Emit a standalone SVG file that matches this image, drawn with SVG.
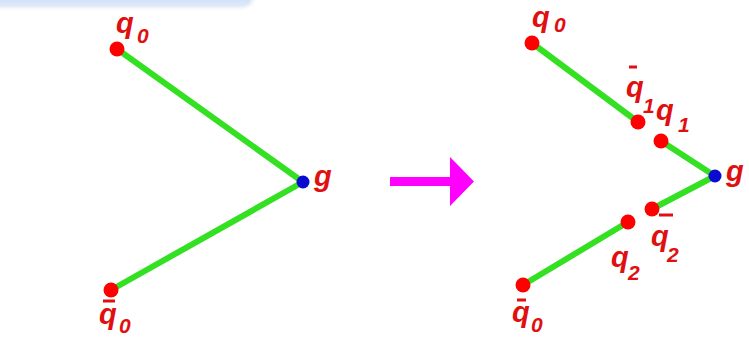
<svg xmlns="http://www.w3.org/2000/svg" width="749" height="347" viewBox="0 0 749 347">
<defs>
<linearGradient id="bg" x1="0" y1="0" x2="0" y2="1">
<stop offset="0" stop-color="#a9c8ee"/>
<stop offset="1" stop-color="#dce9f9"/>
</linearGradient>
<filter id="blur" x="-10%" y="-100%" width="120%" height="400%"><feGaussianBlur stdDeviation="2"/></filter>
</defs>
<style>
.edge{stroke:#33e022;stroke-width:6;stroke-linecap:round;fill:none}
.pt{fill:#ff0000}
.gp{fill:#0a0ad0}
.lb{font-family:"Liberation Sans",Arial,sans-serif;font-weight:bold;font-style:italic;fill:#e01010}
.big{font-size:29px}
.sub{font-size:21px}
.bar{stroke:#e01010;stroke-width:3}
</style>
<rect x="-20" y="-20" width="273" height="27" rx="10" fill="#c8daf2" filter="url(#blur)" opacity="0.8"/>
<rect x="-20" y="-20" width="270" height="25" rx="9" fill="url(#bg)"/>
<g id="connectors">
<line class="edge" x1="117" y1="49" x2="303" y2="182"/>
<line class="edge" x1="111" y1="290" x2="303" y2="182"/>
<line class="edge" x1="532" y1="43" x2="638" y2="122"/>
<line class="edge" x1="661" y1="141" x2="715" y2="176"/>
<line class="edge" x1="715" y1="176" x2="652" y2="209"/>
<line class="edge" x1="628" y1="222" x2="523" y2="285"/>
<path d="M390 177H450V157L474 181.5L450 206V186H390Z" fill="#ff00ff"/>
</g>
<g id="L_q0"><circle class="pt" cx="117" cy="49" r="7.5"/><text class="lb big" x="116" y="33">q</text><text class="lb sub" x="137" y="43">0</text></g>
<g id="L_g"><circle class="gp" cx="303" cy="182" r="6.5"/><text class="lb big" x="314" y="186">g</text></g>
<g id="L_q0bar"><circle class="pt" cx="111" cy="290" r="7.5"/><line class="bar" x1="103" y1="301" x2="115" y2="301"/><text class="lb big" x="99" y="324">q</text><text class="lb sub" x="119" y="333">0</text></g>
<g id="R_q0"><circle class="pt" cx="532" cy="43" r="7.5"/><text class="lb big" x="532" y="27">q</text><text class="lb sub" x="554" y="32">0</text></g>
<g id="R_q1bar"><circle class="pt" cx="638" cy="122" r="7.5"/><line class="bar" x1="629" y1="67" x2="637" y2="67"/><text class="lb big" x="626" y="97">q</text><text class="lb sub" x="643" y="113">1</text></g>
<g id="R_q1"><circle class="pt" cx="661" cy="141" r="7.5"/><text class="lb big" x="656" y="120">q</text><text class="lb sub" x="678" y="132">1</text></g>
<g id="R_g"><circle class="gp" cx="715" cy="176" r="6.5"/><text class="lb big" x="726" y="181">g</text></g>
<g id="R_q2bar"><circle class="pt" cx="652" cy="209" r="7.5"/><line class="bar" x1="659" y1="215" x2="673" y2="215"/><text class="lb big" x="651" y="246">q</text><text class="lb sub" x="667" y="262">2</text></g>
<g id="R_q2"><circle class="pt" cx="628" cy="222" r="7.5"/><text class="lb big" x="611" y="267">q</text><text class="lb sub" x="628" y="280">2</text></g>
<g id="R_q0bar"><circle class="pt" cx="523" cy="285" r="7.5"/><line class="bar" x1="517" y1="300" x2="526" y2="300"/><text class="lb big" x="512" y="322">q</text><text class="lb sub" x="531" y="332">0</text></g>
</svg>
